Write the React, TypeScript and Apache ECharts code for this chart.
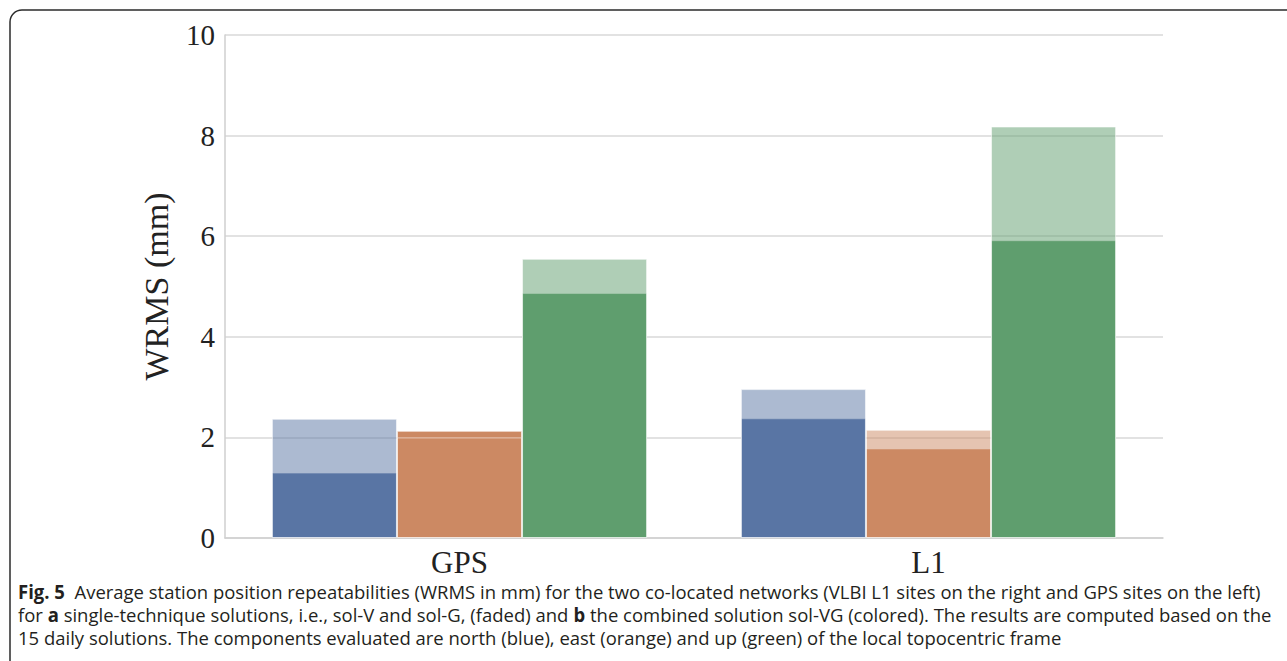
import React, { useEffect, useRef } from "react";
import * as echarts from "echarts";

const categories = ["GPS", "L1"];
const yTicks = [0, 2, 4, 6, 8, 10];
// combined solution sol-VG (colored)
const northCombined = [1.3, 2.38];
const eastCombined = [2.13, 1.78];
const upCombined = [4.87, 5.92];
// single-technique solutions (faded)
const northSingle = [2.37, 2.96];
const eastSingle = [2.0, 2.15];
const upSingle = [5.55, 8.18];

const yName = "WRMS (mm)";
const captionLines: { t: string; b?: boolean }[][] = [
  [
    { t: "Fig. 5", b: true },
    { t: "  Average station position repeatabilities (WRMS in mm) for the two co-located networks (VLBI L1 sites on the right and GPS sites on the left)" },
  ],
  [
    { t: "for " },
    { t: "a", b: true },
    { t: " single-technique solutions, i.e., sol-V and sol-G, (faded) and " },
    { t: "b", b: true },
    { t: " the combined solution sol-VG (colored). The results are computed based on the" },
  ],
  [
    { t: "15 daily solutions. The components evaluated are north (blue), east (orange) and up (green) of the local topocentric frame" },
  ],
];

const COLORS = ["#5975a4", "#cc8963", "#5f9e6e"];
const FADED = ["rgba(89,117,164,0.5)", "rgba(204,137,99,0.5)", "rgba(95,158,110,0.5)"];
const SERIF = "'Liberation Serif', 'DejaVu Serif', serif";
const SANS = "'Open Sans', 'Noto Sans', sans-serif";
const CAP_SIZE = 19;

function measureLine(segs: { t: string; b?: boolean }[]) {
  const c = document.createElement("canvas");
  const ctx = c.getContext("2d")!;
  let w = 0;
  for (const s of segs) {
    ctx.font = `${s.b ? "bold " : ""}${CAP_SIZE}px 'Open Sans'`;
    w += ctx.measureText(s.t).width;
  }
  return w;
}

export default function App() {
  const ref = useRef<HTMLDivElement>(null);
  useEffect(() => {
    if (!ref.current) return;
    const chart = echarts.init(ref.current, undefined, { renderer: "svg" });
    const scale = 1243 / measureLine(captionLines[0]);
    const capY = [591, 614, 637];
    const captionGraphics = captionLines.map((segs, i) => ({
      type: "text",
      x: 18,
      y: capY[i],
      scaleX: scale,
      style: {
        text: segs.map((s) => (s.b ? `{b|${s.t}}` : s.t)).join(""),
        fontFamily: SANS,
        fontSize: CAP_SIZE,
        fill: "#231f20",
        verticalAlign: "middle",
        rich: {
          b: { fontWeight: "bold", fontFamily: SANS, fontSize: CAP_SIZE, fill: "#231f20" },
        },
      },
    }));

    const barStyle = (color: string) => ({
      color,
      borderColor: "rgba(255,255,255,0.55)",
      borderWidth: 1,
    });
    const names = ["north", "east", "up"];
    const combined = [northCombined, eastCombined, upCombined];
    const single = [northSingle, eastSingle, upSingle];

    const series: any[] = [];
    combined.forEach((d, i) =>
      series.push({
        type: "bar",
        name: names[i] + " sol-VG",
        xAxisIndex: 0,
        data: d,
        barGap: "0%",
        barCategoryGap: "20%",
        itemStyle: barStyle(COLORS[i]),
      })
    );
    single.forEach((d, i) =>
      series.push({
        type: "bar",
        name: names[i] + " single",
        xAxisIndex: 1,
        data: d,
        barGap: "0%",
        barCategoryGap: "20%",
        itemStyle: barStyle(FADED[i]),
      })
    );

    chart.setOption({
      animation: false,
      backgroundColor: "#ffffff",
      grid: { left: 225, right: 124, top: 35, bottom: 123, containLabel: false },
      xAxis: [
        {
          type: "category",
          data: categories,
          axisLine: { show: true, lineStyle: { color: "#cfcfcf", width: 1.5 } },
          axisTick: { show: false },
          axisLabel: { fontFamily: SERIF, fontSize: 31, color: "#222", margin: 9 },
          splitLine: { show: false },
        },
        {
          type: "category",
          data: categories,
          show: false,
        },
      ],
      yAxis: {
        type: "value",
        min: yTicks[0],
        max: yTicks[yTicks.length - 1],
        interval: 2,
        name: yName,
        nameLocation: "middle",
        nameGap: 52,
        nameTextStyle: { fontFamily: SERIF, fontSize: 34, color: "#222" },
        axisLine: { show: true, lineStyle: { color: "#cfcfcf", width: 1.5 } },
        axisTick: { show: false },
        axisLabel: { fontFamily: SERIF, fontSize: 29, color: "#222", margin: 10 },
        splitLine: { show: true, lineStyle: { color: "#d8d8d8", width: 1.5 } },
      },
      series,
      graphic: [
        {
          type: "rect",
          shape: { x: 10, y: 10, width: 1320, height: 720, r: 12 },
          style: { fill: "none", stroke: "#2b2b2b", lineWidth: 1.5 },
          z: 100,
        },
        ...captionGraphics,
      ],
    });
    return () => chart.dispose();
  }, []);
  return (
    <div
      ref={ref}
      style={{ position: "absolute", left: 0, top: 0, width: 1287, height: 661 }}
    />
  );
}
